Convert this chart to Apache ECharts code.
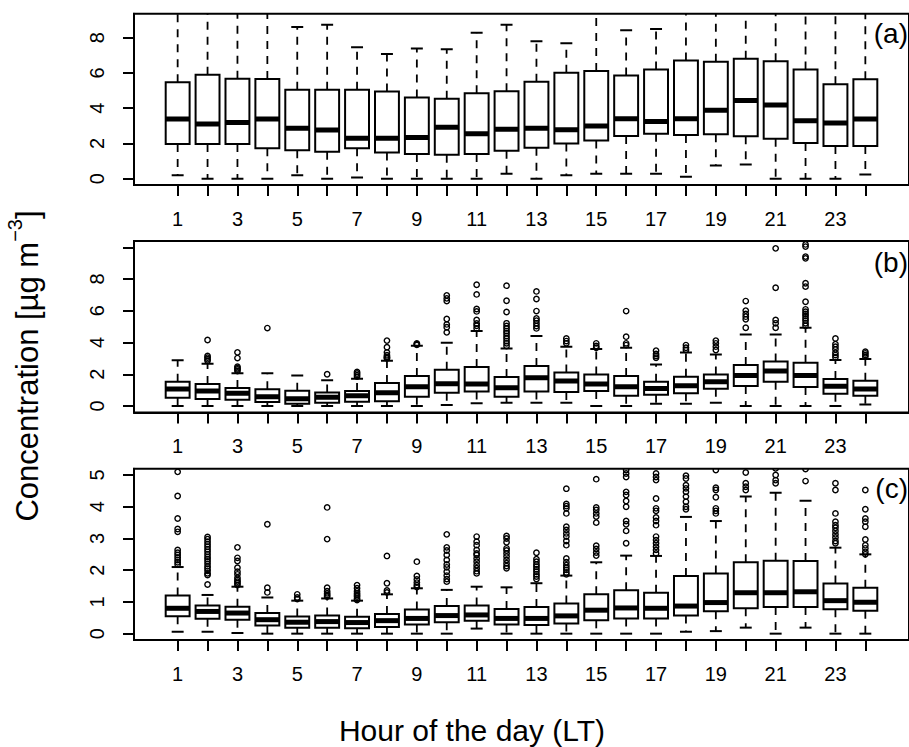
<!DOCTYPE html>
<html>
<head>
<meta charset="utf-8">
<script src="https://cdn.jsdelivr.net/npm/echarts@6/dist/echarts.min.js"></script>
<style>html,body{margin:0;padding:0;background:#fff;}#chart{width:909px;height:747px;}</style>
</head>
<body>
<div id="chart"></div>
<script>
// ---------- data ----------
const hours = [1,2,3,4,5,6,7,8,9,10,11,12,13,14,15,16,17,18,19,20,21,22,23,24];
const xTickLabels = [1,3,5,7,9,11,13,15,17,19,21,23];

// panel (a)
const aLow  = [0.19,0,0,0,0.19,0,0.06,0,0,0,0,0.28,0,0.19,0.28,0.28,0.28,0.11,0.74,0.81,0,0,0,0.23];
const aQ1   = [1.97,1.97,1.97,1.72,1.61,1.53,1.72,1.48,1.40,1.36,1.40,1.59,1.76,2.00,2.16,2.42,2.55,2.48,2.52,2.40,2.27,2.02,1.85,1.85];
const aMed  = [3.39,3.10,3.18,3.39,2.86,2.76,2.29,2.29,2.33,2.91,2.55,2.80,2.86,2.78,2.99,3.40,3.25,3.40,3.88,4.43,4.18,3.29,3.16,3.39];
const aQ3   = [5.47,5.90,5.67,5.65,5.05,5.05,5.05,4.94,4.61,4.54,4.84,4.96,5.50,6.01,6.11,5.86,6.20,6.71,6.64,6.81,6.66,6.20,5.35,5.64];
const aHigh = [9.8,9.8,9.8,9.8,8.60,8.74,7.45,7.07,7.38,7.34,8.28,8.74,7.79,7.68,9.8,8.42,8.49,9.8,9.8,9.8,9.8,9.8,9.8,9.8];
const aOut  = [[],[],[],[],[],[],[],[],[],[],[],[],[],[],[],[],[],[],[],[],[],[],[],[]];
const aYTicks = [0,2,4,6,8];
const aYLabels = [0,2,4,6,8];

// panel (b)
const bLow  = [0,0,0,0,0,0,0,0,0,0.06,0.17,0.21,0.21,0.21,0,0,0.15,0.15,0.21,0,0,0,0,0.1];
const bQ1   = [0.52,0.44,0.40,0.25,0.15,0.21,0.27,0.31,0.59,0.84,0.92,0.59,0.92,0.88,0.94,0.65,0.71,0.80,1.09,1.26,1.53,1.20,0.78,0.65];
const bMed  = [1.07,0.94,0.80,0.59,0.46,0.55,0.65,0.84,1.22,1.41,1.39,1.15,1.78,1.57,1.39,1.22,1.11,1.28,1.53,1.93,2.20,1.93,1.24,1.07];
const bQ3   = [1.53,1.39,1.13,1.05,0.97,0.86,0.94,1.45,1.89,2.29,2.46,1.83,2.52,2.12,1.99,1.89,1.53,1.85,1.99,2.58,2.81,2.73,1.70,1.60];
const bHigh = [2.88,2.67,2.06,2.06,1.93,1.62,1.72,2.86,3.80,3.99,4.72,3.63,4.41,3.74,3.59,3.67,2.62,3.38,3.25,4.51,4.51,4.93,2.90,2.96];
const bOut  = [
  [],
  [4.16,3.15,3.05,2.95,2.85],
  [3.38,3.02,2.48,2.38,2.30,2.20],
  [4.91],
  [],
  [2.00],
  [2.15,2.05,1.95,1.85],
  [4.12,3.70,3.38,3.20,3.10,3.05,3.00],
  [3.95,3.90,3.85],
  [6.97,6.78,6.61,5.48,5.14,4.96,4.64],
  [7.64,7.03,6.11,5.96,5.42,5.20,5.06,4.89],
  [7.58,6.63,5.92,5.21,5.04,4.89,4.72,4.58,4.41,4.26,4.09,3.95,3.78],
  [7.22,6.74,5.98,5.52,5.38,5.21,5.04,4.89],
  [4.26,4.09,3.95],
  [3.95,3.78,3.67],
  [5.98,4.37,3.95,3.84],
  [3.49,3.28,3.15,3.04],
  [3.84,3.67,3.53],
  [4.12,3.95,3.74,3.53],
  [6.61,6.01,5.80,5.63,5.46,4.93],
  [9.93,7.45,5.42,5.21,4.93],
  [10.18,10.04,9.41,9.30,7.73,7.52,6.57,6.09,5.94,5.80,5.67,5.52,5.38,5.21,5.06],
  [4.26,3.90,3.74,3.57,3.36,3.21,3.07],
  [3.42,3.32,3.21,3.11]
];
const bYTicks = [0,2,4,6,8,10];
const bYLabels = [0,2,4,6,8];

// panel (c)
const cLow  = [0.06,0.06,0.02,0,0,0,0,0,0,0,0.16,0,0,0,0,0,0,0.06,0.08,0.19,0,0.19,0,0];
const cQ1   = [0.55,0.47,0.44,0.26,0.19,0.19,0.17,0.21,0.29,0.36,0.41,0.29,0.27,0.32,0.42,0.48,0.48,0.57,0.71,0.80,0.84,0.84,0.77,0.72];
const cMed  = [0.80,0.70,0.65,0.44,0.36,0.38,0.35,0.41,0.48,0.57,0.59,0.48,0.48,0.56,0.74,0.81,0.80,0.87,0.98,1.29,1.29,1.32,1.04,0.99];
const cQ3   = [1.20,0.89,0.85,0.65,0.54,0.57,0.53,0.62,0.76,0.87,0.89,0.78,0.84,0.95,1.24,1.37,1.29,1.82,1.90,2.25,2.30,2.29,1.58,1.45];
const cHigh = [2.10,1.22,1.48,1.14,1.04,1.11,1.04,1.24,1.43,1.38,1.48,1.46,1.59,1.83,2.25,2.46,2.45,3.68,3.55,4.32,4.44,4.19,2.71,2.50];
const cOut  = [
  [5.10,4.34,3.63,3.30,3.21,2.64,2.55,2.48,2.40,2.32,2.25,2.18],
  [3.05,2.98,2.90,2.82,2.74,2.66,2.58,2.50,2.42,2.35,2.28,2.20,2.12,2.05,1.98,1.90,1.85,1.55],
  [2.72,2.39,2.29,2.08,1.95,1.87,1.76,1.69,1.64,1.59,1.53],
  [3.45,1.45,1.30],
  [1.24,1.14,1.09],
  [3.98,2.98,1.45,1.34,1.27,1.22,1.17],
  [1.53,1.43,1.34,1.27,1.22,1.17,1.11,1.06],
  [2.45,1.59,1.36,1.30],
  [2.27,1.82,1.71,1.61,1.53,1.47],
  [3.13,2.72,2.62,2.48,2.32,2.18,2.09,1.95,1.83,1.72,1.64],
  [3.06,2.90,2.79,2.64,2.53,2.48,2.37,2.27,2.16,2.06,1.97,1.90],
  [3.08,3.00,2.88,2.69,2.62,2.53,2.43,2.32,2.22,2.13,2.06],
  [2.55,2.35,2.27,2.18,2.11,2.03,1.95,1.87,1.80,1.72],
  [4.57,4.09,4.02,3.95,3.79,3.37,3.27,3.16,3.06,2.92,2.79,2.37,2.25,2.16,2.08,2.01,1.93,1.87],
  [4.87,3.98,3.90,3.79,3.69,3.50,2.77,2.67,2.56,2.46],
  [5.16,5.05,4.94,4.47,4.37,4.18,4.00,3.55,3.45,3.24,2.85],
  [5.05,4.94,4.84,4.26,3.95,3.87,3.66,3.55,3.42,3.06,2.95,2.85,2.74,2.64,2.53],
  [4.98,4.89,4.68,4.58,4.47,4.32,4.16,4.00,3.92],
  [5.16,4.60,4.53,4.30,3.95,3.87,3.79],
  [5.08,4.74,4.63,4.53],
  [5.21,5.00,4.84,4.74],
  [5.19,4.81],
  [4.74,4.53,3.79,3.53,3.42,3.34,3.24,3.13,3.03,2.92,2.85],
  [4.53,3.92,3.63,3.53,3.37,2.97,2.79,2.69,2.58,2.50]
];
const cYTicks = [0,1,2,3,4,5];
const cYLabels = [0,1,2,3,4,5];

const panelTags = ['(a)','(b)','(c)'];
const xTitle = 'Hour of the day (LT)';

// ---------- build ----------
const FONT = '"Liberation Sans", Arial, Helvetica, sans-serif';
const panels = [
  {low:aLow,q1:aQ1,med:aMed,q3:aQ3,high:aHigh,out:aOut,ticks:aYTicks,labels:aYLabels,min:-0.36,max:9.36,top:13.7,h:171.3,tagY:33},
  {low:bLow,q1:bQ1,med:bMed,q3:bQ3,high:bHigh,out:bOut,ticks:bYTicks,labels:bYLabels,min:-0.4,max:10.4,top:240.9,h:171.5,tagY:262},
  {low:cLow,q1:cQ1,med:cMed,q3:cQ3,high:cHigh,out:cOut,ticks:cYTicks,labels:cYLabels,min:-0.2,max:5.2,top:468.7,h:171.3,tagY:488}
];

function boxItem(params, api){
  const x = api.value(0);
  const pLow = api.coord([x, api.value(1)]);
  const pQ1 = api.coord([x, api.value(2)]);
  const pMed = api.coord([x, api.value(3)]);
  const pQ3 = api.coord([x, api.value(4)]);
  const pHigh = api.coord([x, api.value(5)]);
  const w = api.size([0.8, 0])[0];
  const cx = pQ1[0];
  const cw = w / 4;
  const black = '#000';
  return {type:'group', children:[
    {type:'line', shape:{x1:cx,y1:pQ3[1],x2:cx,y2:pHigh[1]}, style:{stroke:black,lineWidth:1.8,lineDash:[8,7]}},
    {type:'line', shape:{x1:cx,y1:pQ1[1],x2:cx,y2:pLow[1]}, style:{stroke:black,lineWidth:1.8,lineDash:[8,7]}},
    {type:'line', shape:{x1:cx-cw,y1:pHigh[1],x2:cx+cw,y2:pHigh[1]}, style:{stroke:black,lineWidth:2}},
    {type:'line', shape:{x1:cx-cw,y1:pLow[1],x2:cx+cw,y2:pLow[1]}, style:{stroke:black,lineWidth:2}},
    {type:'rect', shape:{x:cx-w/2,y:pQ3[1],width:w,height:pQ1[1]-pQ3[1]}, style:{fill:'#fff',stroke:black,lineWidth:2}},
    {type:'line', shape:{x1:cx-w/2,y1:pMed[1],x2:cx+w/2,y2:pMed[1]}, style:{stroke:black,lineWidth:5}}
  ]};
}
function outItem(params, api){
  const p = api.coord([api.value(0), api.value(1)]);
  return {type:'circle', shape:{cx:p[0],cy:p[1],r:2.7}, style:{fill:'none',stroke:'#000',lineWidth:1.4}};
}

const grids=[], xAxes=[], yAxes=[], series=[], graphics=[];
panels.forEach((p,i)=>{
  grids.push({left:134, top:p.top, width:776.4, height:p.h, show:true, borderColor:'#000', borderWidth:2, backgroundColor:'transparent'});
  xAxes.push({type:'value', gridIndex:i, min:-0.46, max:25.46,
    axisLine:{show:true,onZero:false,lineStyle:{color:'#000',width:2}},
    axisTick:{show:true,inside:false,length:11,customValues:hours,lineStyle:{color:'#000',width:2}},
    axisLabel:{show:true,customValues:xTickLabels,margin:24,fontSize:20,color:'#000',fontFamily:FONT},
    splitLine:{show:false}});
  yAxes.push({type:'value', gridIndex:i, min:p.min, max:p.max,
    axisLine:{show:true,onZero:false,lineStyle:{color:'#000',width:2}},
    axisTick:{show:true,inside:false,length:11,customValues:p.ticks,lineStyle:{color:'#000',width:2}},
    axisLabel:{show:true,customValues:p.labels,rotate:90,margin:27,fontSize:20,color:'#000',fontFamily:FONT,formatter:v=>String(Math.round(v))},
    splitLine:{show:false}});
  const bd = hours.map((h,k)=>[h,p.low[k],p.q1[k],p.med[k],p.q3[k],p.high[k]]);
  series.push({type:'custom', xAxisIndex:i, yAxisIndex:i, clip:true, silent:true, renderItem:boxItem, data:bd, encode:{x:0,y:[1,2,3,4,5]}, z:2});
  const od=[];
  p.out.forEach((arr,k)=>arr.forEach(v=>od.push([hours[k],v])));
  series.push({type:'custom', xAxisIndex:i, yAxisIndex:i, clip:true, silent:true, renderItem:outItem, data:od, encode:{x:0,y:1}, z:3});
  graphics.push({type:'text', x:908, y:p.tagY, style:{text:panelTags[i], fontSize:28, fontFamily:FONT, fill:'#000', align:'right', verticalAlign:'middle'}});
});
graphics.push({type:'text', x:472, y:730, style:{text:xTitle, fontSize:30, fontFamily:FONT, fill:'#000', align:'center', verticalAlign:'middle'}});
graphics.push({type:'text', x:24, y:366, rotation:Math.PI/2, style:{
  text:'{m|Concentration [µg m}{s|−3}{m|]}',
  align:'center', verticalAlign:'middle',
  rich:{m:{fontSize:31,fontFamily:FONT,fill:'#000',lineHeight:38,verticalAlign:'bottom'},
        s:{fontSize:20,fontFamily:FONT,fill:'#000',verticalAlign:'top'}}
}});

const chart = echarts.init(document.getElementById('chart'), null, {renderer:'svg'});
chart.setOption({animation:false, backgroundColor:'#fff', grid:grids, xAxis:xAxes, yAxis:yAxes, series:series, graphic:graphics});
</script>
</body>
</html>
